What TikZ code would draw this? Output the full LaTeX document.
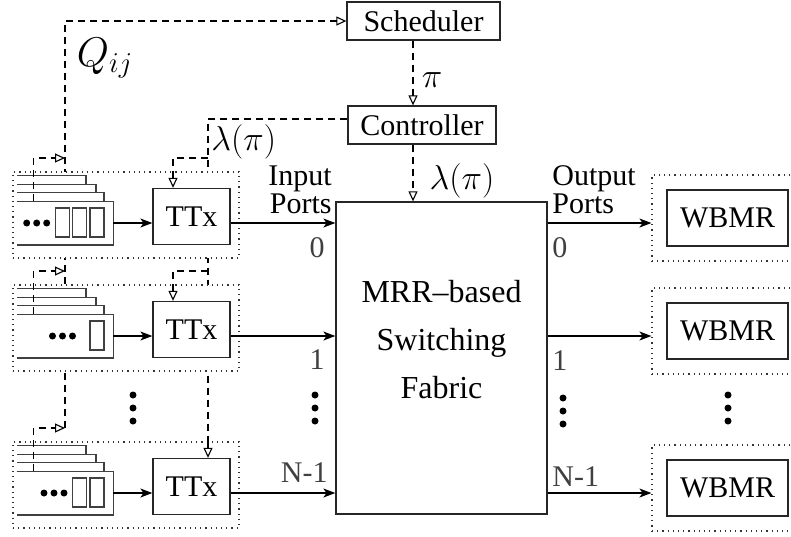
\documentclass[tikz,border=0pt]{standalone}
\usepackage{fontspec}
\setmainfont{Liberation Serif}
\usepackage{tikz}
\usetikzlibrary{arrows.meta, positioning, calc, backgrounds}

\begin{document}
\begin{tikzpicture}[x=0.5pt, y=-0.5pt,
  box/.style={rectangle, draw=black!85, line width=0.65pt, fill=white, inner sep=0pt, font=\fontsize{15}{18}\selectfont},
  grp/.style={rectangle, draw=black!80, dotted, line width=0.6pt, fill=white, inner sep=0pt, minimum height=43pt},
  qline/.style={draw=black!75, line width=0.6pt},
  flow/.style={-{Stealth[length=6pt, width=4.5pt, inset=1.6pt]}, line width=0.6pt},
  ctlline/.style={dash pattern=on 3.5pt off 2.5pt, line width=0.55pt},
  ctl/.style={ctlline, -{Triangle[open, length=5pt, width=4.5pt]}},
  port/.style={font=\fontsize{15}{18}\selectfont, text=black!75, inner sep=0pt},
  mlab/.style={font=\fontsize{17}{20}\selectfont, inner sep=0pt},
]
\useasboundingbox (0,0) rectangle (791,536);

% ── TOP: SCHEDULER, CONTROLLER ──
\node[box, minimum width=76.5pt, minimum height=19pt] (sched) at (423.5,21) {Scheduler};
\node[box, minimum width=74pt, minimum height=19pt] (ctrl) at (422,125) {Controller};
\coordinate (cx) at (413,0);
\coordinate (lx) at (208,0);

% ── FABRIC ──
\node[box, minimum width=105.5pt, minimum height=156pt] (fabric) at (441.5,358) {};
\node[font=\fontsize{16}{24}\selectfont, align=center, inner sep=0pt] (fabtxt) at ([yshift=9pt]fabric.center) {MRR–based\\Switching\\Fabric};

% ── ROWS: queues, TTx, WBMR ──
\foreach \k/\a/\n/\d in {0/223/3/26.7, 1/336/1/52.5, 2/493/2/44}{
  \node[grp, minimum width=113pt] (grp\k) at (126,\a-8) {};
  \node[box, minimum width=38.5pt, minimum height=28pt] (ttx\k) at (191.5,\a-6.5) {TTx};
  \node[inner sep=0pt, minimum width=48pt, minimum height=21.5pt] (q\k) at (65,\a) {};
  \coordinate (qtap\k) at (65,\a-65);
  \coordinate (ltap\k) at (208,\a-65);
  % queue outline and the stacked ones behind it
  \draw[qline] (q\k.north west) -| (q\k.south east) -- (q\k.south west);
  \foreach \i/\r in {1/104, 2/96, 3/86}
    \draw[qline] (17,\a-21.5-8.7*\i) -| (\r,\a-12.8-8.7*\i);
  \foreach \j in {1,...,\n}
    \draw[qline] (107.3-17.3*\j,\a-15) rectangle ++(14,29);
  \foreach \j in {0,1,2}
    \fill (\d+10*\j,\a) circle (1.75pt);
  % receivers
  \node[grp, minimum width=78pt] (wgrp\k) at (730,\a-5) {};
  \node[box, minimum width=60.5pt, minimum height=28pt] (wbmr\k) at (727.5,\a-5) {WBMR};
  % data path
  \draw[flow] (q\k.east) -- (q\k.east -| ttx\k.west);
  \draw[flow] (q\k.east -| ttx\k.east) -- (q\k.east -| fabric.west);
  \draw[flow] (q\k.east -| fabric.east) -- (q\k.east -| wgrp\k.west);
}

% ── CONTROL (dashed) ──
\begin{scope}[on background layer]
  \draw[ctl] (qtap2) |- (sched.west);
  \draw[ctlline] ([yshift=3pt]ctrl.west) -| (grp2.north -| lx);
\end{scope}
\draw[ctl] (grp2.north -| lx) -- (ttx2.north -| lx);
\draw[ctl] (sched.south -| cx) -- (ctrl.north -| cx);
\draw[ctl] (ctrl.south -| cx) -- (fabric.north -| cx);
\foreach \k in {0,1,2}
  \draw[ctl] ([xshift=8.5pt]q\k.north west) |- (qtap\k);
\foreach \k in {0,1}
  \draw[ctl] (ltap\k) -| ([xshift=-9.25pt]ttx\k.north);

% ── LABELS ──
\node[mlab, font=\fontsize{20}{22}\selectfont] (qlab) at (105,58) {$Q_{ij}$};
\node[mlab] (pilab) at (432,80) {$\pi$};
\node[mlab, anchor=north west] (lamA) at (211,124) {$\lambda(\pi)$};
\node[mlab] (lamB) at (462,181) {$\lambda(\pi)$};
\node[font=\fontsize{15}{13}\selectfont, align=right, anchor=south east, inner sep=0pt] (inports) at (332,214) {Input\\Ports};
\node[font=\fontsize{15}{13}\selectfont, align=left, anchor=south west, inner sep=0pt] (outports) at (552,214) {Output\\Ports};
\node[port, anchor=east] (pin0) at (325,248) {0};
\node[port, anchor=east] (pin1) at (325,360) {1};
\node[port, anchor=east] (pin2) at (328,473) {N-1};
\node[port, anchor=west] (pout0) at (552,248) {0};
\node[port, anchor=west] (pout1) at (552,361) {1};
\node[port, anchor=west] (pout2) at (552,477) {N-1};

% vertical ellipses
\foreach \x/\y in {133/408, 315/408, 563/411, 728/408}
  \foreach \d in {-13,0,13}
    \fill (\x,\y+\d) circle (1.75pt);

\end{tikzpicture}
\end{document}
